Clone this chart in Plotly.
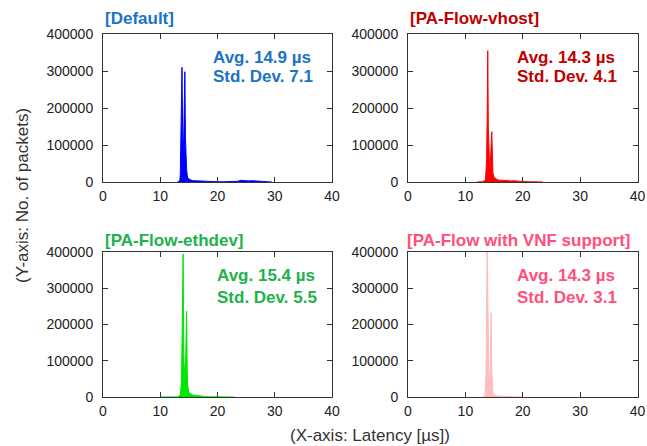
import plotly.graph_objects as go

# ---- data ----
titles = ["[Default]", "[PA-Flow-vhost]", "[PA-Flow-ethdev]", "[PA-Flow with VNF support]"]
avg_labels = ["Avg. 14.9 µs", "Avg. 14.3 µs", "Avg. 15.4 µs", "Avg. 14.3 µs"]
std_labels = ["Std. Dev. 7.1", "Std. Dev. 4.1", "Std. Dev. 5.5", "Std. Dev. 3.1"]

default_x = [13.0, 13.4, 13.5, 13.6, 13.7, 13.8, 13.9, 14.0, 14.1, 14.2, 14.3, 14.4, 14.5, 14.6, 14.7, 14.8,
             15.0, 15.3, 15.6, 16.0, 16.5, 17.0, 17.5, 18.0, 19.0, 20.0, 21.0, 22.0, 23.0, 23.6, 24.0, 24.5,
             25.0, 25.5, 26.0, 26.5, 27.0, 27.5, 28.0, 28.5, 29.0, 29.5]
default_y = [0, 2000, 20000, 90000, 200000, 310000, 150000, 80000, 120000, 220000, 298000, 120000, 60000,
             35000, 20000, 12000, 8000, 5000, 4000, 3500, 3000, 2500, 2000, 1200, 800, 600, 500, 700, 1000,
             2000, 4500, 3500, 4000, 3000, 3500, 2500, 3000, 2000, 1500, 1000, 500, 0]

vhost_x = [12.0, 13.0, 13.5, 13.7, 13.8, 13.9, 14.0, 14.1, 14.2, 14.3, 14.4, 14.5, 14.6, 14.7, 14.8, 15.0,
           15.3, 15.6, 16.0, 16.5, 17.0, 17.5, 18.0, 18.5, 19.0, 20.0, 21.0, 22.0, 23.0, 23.5]
vhost_y = [0, 500, 5000, 60000, 180000, 355000, 150000, 70000, 50000, 40000, 60000, 100000, 136000, 60000,
           25000, 12000, 8000, 6000, 5000, 4000, 4500, 3500, 3000, 3500, 2000, 1000, 800, 600, 300, 0]

ethdev_x = [10.0, 13.0, 13.5, 13.7, 13.8, 13.9, 14.0, 14.1, 14.2, 14.3, 14.4, 14.5, 14.6, 14.7, 14.8, 15.0,
            15.3, 15.6, 16.0, 16.5, 17.0, 17.5, 18.0, 19.0, 20.0, 21.0, 22.0, 23.0]
ethdev_y = [0, 300, 5000, 40000, 150000, 260000, 395000, 120000, 60000, 45000, 70000, 150000, 237000, 80000,
            30000, 12000, 8000, 6000, 5000, 4000, 3500, 1500, 1000, 700, 500, 300, 200, 0]

vnf_x = [13.0, 13.4, 13.6, 13.7, 13.8, 13.9, 14.0, 14.1, 14.2, 14.3, 14.4, 14.5, 14.6, 14.7, 14.8, 15.0,
         15.3, 15.6, 16.0, 17.0, 18.0, 19.0, 20.0]
vnf_y = [0, 3000, 60000, 250000, 420000, 300000, 90000, 50000, 40000, 60000, 140000, 232000, 70000, 25000,
         10000, 6000, 4000, 3000, 2500, 1500, 800, 300, 0]

x_ticks = [0, 10, 20, 30, 40]
y_ticks = [0, 100000, 200000, 300000, 400000]

series = [(default_x, default_y), (vhost_x, vhost_y), (ethdev_x, ethdev_y), (vnf_x, vnf_y)]
line_colors = ["#0000ff", "#ff0000", "#00e600", "#ffbcbc"]
text_colors = ["#1a73c4", "#c00000", "#22b14c", "#ff4f7b"]

W, H = 647, 446
def px(x): return x / W
def py(y): return 1 - y / H

x_domains = [(px(103), px(332)), (px(408), px(637.5)), (px(103), px(332)), (px(408), px(637.5))]
y_domains = [(py(182), py(34)), (py(182), py(34)), (py(397), py(252)), (py(397), py(252))]
title_pos = [(103, 18), (408, 18), (103, 240), (405, 240)]
annot_pos = [(211, 57, 76), (515, 57, 77), (215, 275, 297), (515, 275, 297)]

fig = go.Figure()
layout = dict(
    template="none",
    width=W, height=H, margin=dict(l=0, r=0, t=0, b=0, pad=0), autosize=False,
    paper_bgcolor="white", plot_bgcolor="white", showlegend=False,
    font=dict(family="Liberation Sans, Arial, sans-serif", color="#222"),
)
annotations = []
for i, ((xs, ys), lc, tc) in enumerate(zip(series, line_colors, text_colors)):
    n = "" if i == 0 else str(i + 1)
    fig.add_trace(go.Scatter(x=xs, y=ys, mode="lines", fill="tozeroy",
                             line=dict(color=lc, width=1), fillcolor=lc,
                             xaxis="x" + n, yaxis="y" + n, hoverinfo="skip"))
    common = dict(showline=True, linecolor="#333", linewidth=1, mirror="ticks", automargin=False,
                  ticks="inside", ticklen=5, tickcolor="#333", showgrid=False, zeroline=False,
                  tickfont=dict(size=14, color="#222", family="Liberation Sans, Arial, sans-serif"))
    layout["xaxis" + n] = dict(domain=x_domains[i], range=[0, 40], tickvals=x_ticks,
                              anchor="y" + n, ticklabelstandoff=1, **common)
    layout["yaxis" + n] = dict(domain=y_domains[i], range=[0, 400000], tickvals=y_ticks,
                              tickformat="d", anchor="x" + n, ticklabelstandoff=6, **common)
    tx, ty = title_pos[i]
    annotations.append(dict(text="<b>" + titles[i] + "</b>", x=px(tx), y=py(ty), xref="paper", yref="paper",
                            xanchor="left", yanchor="middle", showarrow=False,
                            font=dict(size=17, color=tc)))
    ax, ay1, ay2 = annot_pos[i]
    annotations.append(dict(text="<b>" + avg_labels[i] + "</b>", x=px(ax), y=py(ay1), xref="paper", yref="paper",
                            xanchor="left", yanchor="middle", showarrow=False,
                            font=dict(size=17, color=tc)))
    annotations.append(dict(text="<b>" + std_labels[i] + "</b>", x=px(ax), y=py(ay2), xref="paper", yref="paper",
                            xanchor="left", yanchor="middle", showarrow=False,
                            font=dict(size=17, color=tc)))

annotations.append(dict(text="(Y-axis: No. of packets)", x=px(23), y=py(196), xref="paper", yref="paper",
                        textangle=-90, showarrow=False, xanchor="center", yanchor="middle",
                        font=dict(size=17, color="#333")))
annotations.append(dict(text="(X-axis: Latency [µs])", x=px(370), y=py(435), xref="paper", yref="paper",
                        showarrow=False, xanchor="center", yanchor="middle",
                        font=dict(size=17, color="#333")))
layout["annotations"] = annotations
fig.update_layout(**layout)
fig.write_html("out.html", config={"displayModeBar": False},
               post_script="document.body.style.margin='0';document.body.style.overflow='hidden';")
